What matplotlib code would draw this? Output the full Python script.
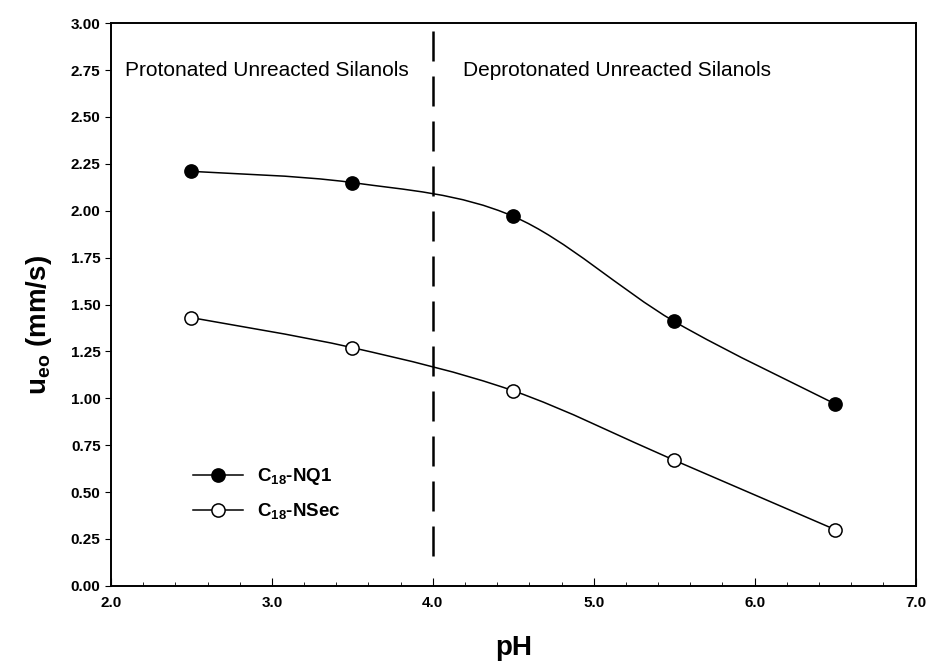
import matplotlib
matplotlib.use('Agg')
import matplotlib.pyplot as plt
from matplotlib.path import Path
from matplotlib.patches import PathPatch
from matplotlib.ticker import MultipleLocator, FormatStrFormatter

plt.rcParams['font.family'] = ['Liberation Sans', 'DejaVu Sans']
plt.rcParams['mathtext.fontset'] = 'custom'
plt.rcParams['mathtext.rm'] = 'Liberation Sans'
plt.rcParams['mathtext.bf'] = 'Liberation Sans:bold'

# data
ph = [2.5, 3.5, 4.5, 5.5, 6.5]
nq1 = [2.21, 2.15, 1.97, 1.41, 0.97]
nsec = [1.43, 1.27, 1.04, 0.67, 0.30]
series_labels = ['C$_{\\mathbf{18}}$-NQ1', 'C$_{\\mathbf{18}}$-NSec']
region_labels = ['Protonated Unreacted Silanols', 'Deprotonated Unreacted Silanols']
boundary_ph = 4.0


def smooth_path(x, y, t=0.5):
    # catmull-rom segments as cubic bezier control points
    verts = [(x[0], y[0])]
    codes = [Path.MOVETO]
    n = len(x)
    for i in range(n - 1):
        x0, y0 = (x[i - 1], y[i - 1]) if i > 0 else (x[i], y[i])
        x3, y3 = (x[i + 2], y[i + 2]) if i + 2 < n else (x[i + 1], y[i + 1])
        x1, y1 = x[i], y[i]
        x2, y2 = x[i + 1], y[i + 1]
        c1 = (x1 + (x2 - x0) * t / 3, y1 + (y2 - y0) * t / 3)
        c2 = (x2 - (x3 - x1) * t / 3, y2 - (y3 - y1) * t / 3)
        verts += [c1, c2, (x2, y2)]
        codes += [Path.CURVE4] * 3
    return Path(verts, codes)


fig = plt.figure(figsize=(9.27, 6.62), dpi=100)
ax = fig.add_axes([0.1197, 0.115, 0.868, 0.85])

for ys, fc, lab in [(nq1, 'black', series_labels[0]), (nsec, 'white', series_labels[1])]:
    ax.add_patch(PathPatch(smooth_path(ph, ys), fill=False, lw=1.1, color='black'))
    ax.plot(ph, ys, ls='none', marker='o', ms=9.5, mfc=fc, mec='black', mew=1.1, zorder=3)
    # legend proxy
    ax.plot([], [], color='black', lw=1.1, marker='o', ms=9.5, mfc=fc, mec='black', mew=1.1, label=lab)

ax.plot([boundary_ph, boundary_ph], [2.96, 0.09], color='black', lw=1.8, dashes=(12, 6))

ax.text(2.09, 2.75, region_labels[0], fontsize=15, va='center')
ax.text(4.19, 2.75, region_labels[1], fontsize=15, va='center')

leg = ax.legend(loc='upper left', bbox_to_anchor=(0.09, 0.229), frameon=False,
                borderpad=0, handlelength=2.7, handletextpad=0.7, labelspacing=0.75,
                prop={'size': 13.5, 'weight': 'bold'})

ax.set_xlim(2.0, 7.0)
ax.set_ylim(0.0, 3.0)
ax.xaxis.set_major_locator(MultipleLocator(1.0))
ax.xaxis.set_minor_locator(MultipleLocator(0.2))
ax.yaxis.set_major_locator(MultipleLocator(0.25))
ax.xaxis.set_major_formatter(FormatStrFormatter('%.1f'))
ax.yaxis.set_major_formatter(FormatStrFormatter('%.2f'))
ax.tick_params(axis='x', which='both', direction='in', labelsize=11, pad=7)
ax.tick_params(axis='x', which='major', length=6)
ax.tick_params(axis='x', which='minor', length=3)
ax.tick_params(axis='y', direction='out', length=4, labelsize=11)
for lab in ax.get_xticklabels() + ax.get_yticklabels():
    lab.set_fontweight('bold')
for sp in ax.spines.values():
    sp.set_linewidth(1.4)

ax.set_xlabel('pH', fontsize=20, fontweight='bold', labelpad=18)
ax.set_ylabel('u$_{\\mathbf{eo}}$ (mm/s)', fontsize=20, fontweight='bold', labelpad=12)
ax.yaxis.label.set_y(0.464)

fig.savefig('out.png', dpi=100)
